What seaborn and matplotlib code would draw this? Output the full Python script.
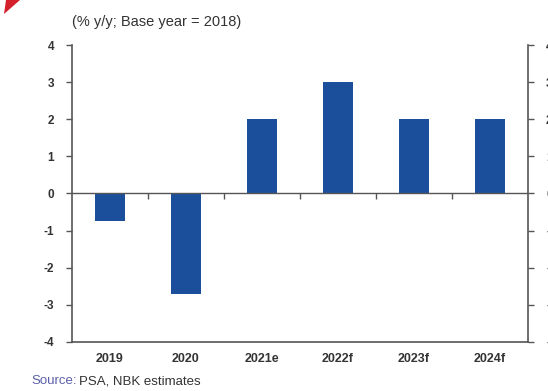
import matplotlib
matplotlib.use("Agg")
import matplotlib.pyplot as plt
from matplotlib.markers import TICKDOWN
from matplotlib.patches import Polygon
import seaborn as sns
import pandas as pd

years = ["2019", "2020", "2021e", "2022f", "2023f", "2024f"]
growth = [-0.75, -2.7, 2.0, 3.0, 2.0, 2.0]
y_ticks = [-4, -3, -2, -1, 0, 1, 2, 3, 4]

df = pd.DataFrame({"year": years, "growth": growth})

sns.set_theme(style="white")
plt.rcParams["font.family"] = ["Liberation Sans", "DejaVu Sans"]

W, H = 548, 391
fig = plt.figure(figsize=(W / 100, H / 100), dpi=100)
ax = fig.add_axes([72 / W, 1 - 342 / H, 456 / W, 297 / H])

bar_color = "#1b4f9c"
sns.barplot(data=df, x="year", y="growth", color=bar_color, width=0.4,
            saturation=1, linewidth=0, ax=ax)

axis_grey = "#555555"
text_grey = "#333333"

ax.set_ylim(-4, 4)
ax.set_xlim(-0.5, len(years) - 0.5)
ax.set_yticks(y_ticks)
ax.set_yticklabels([str(t) for t in y_ticks], fontweight="bold")
ax.set_xticks(range(len(years)))
ax.set_xticklabels(years, fontweight="bold")
ax.set_xlabel("")
ax.set_ylabel("")

for side in ["left", "right", "bottom"]:
    ax.spines[side].set_visible(True)
    ax.spines[side].set_color(axis_grey)
    ax.spines[side].set_linewidth(1.2)
ax.spines["top"].set_visible(False)

ax.tick_params(axis="y", which="major", left=True, right=True,
               labelleft=True, labelright=True, direction="out",
               length=4, width=1.0, color=axis_grey, pad=9,
               labelsize=8.5, labelcolor=text_grey)
ax.tick_params(axis="x", which="major", bottom=False, length=0, pad=8,
               labelsize=9, labelcolor=text_grey)

# zero line with small downward ticks between categories
ax.axhline(0, color=axis_grey, linewidth=1.0, zorder=3)
between = [i + 0.5 for i in range(len(years) - 1)]
ax.plot(between, [0] * len(between), linestyle="none", marker=TICKDOWN,
        markersize=4, markeredgewidth=1.0, color=axis_grey, zorder=3)

fig.text(72 / W, 1 - 22 / H, "(% y/y; Base year = 2018)", fontsize=10.5,
         color=text_grey, ha="left", va="center")

fig.text(31 / W, 1 - 381 / H, "Source:", fontsize=9.5, color="#5a5fa8",
         ha="left", va="center")
fig.text(79 / W, 1 - 381 / H, "PSA, NBK estimates", fontsize=9.5,
         color=text_grey, ha="left", va="center")

fig.patches.append(Polygon([(4 / W, 1 - 14 / H), (20 / W, 1.0), (6 / W, 1.0)],
                           closed=True, transform=fig.transFigure,
                           facecolor="#d4202a", edgecolor="none"))

fig.savefig("out.png", dpi=100)
